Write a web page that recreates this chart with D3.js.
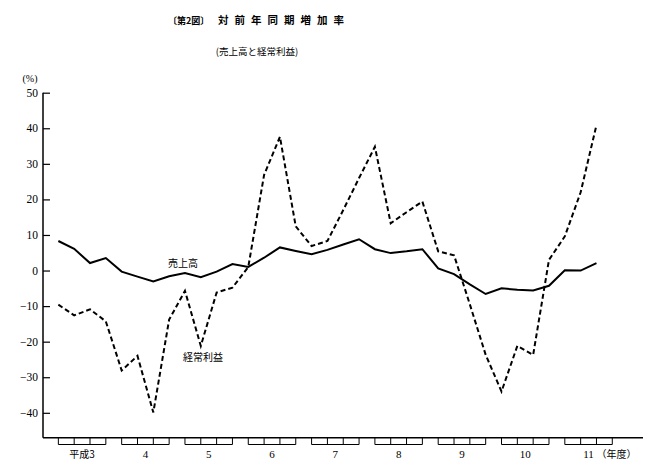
<!DOCTYPE html>
<html>
<head>
<meta charset="utf-8">
<script src="https://cdn.jsdelivr.net/npm/d3@7/dist/d3.min.js"></script>
<style>
  body { margin: 0; background: #fff; }
  svg { display: block; }
  .jp { font-family: "Noto Sans CJK JP", "Noto Sans", sans-serif; }
  .num { font-family: "Liberation Serif", "DejaVu Serif", serif; }
</style>
</head>
<body>
<div id="chart"></div>
<script>
// 四半期ごとの対前年同期増加率 (%)
var years = ["平成3", "4", "5", "6", "7", "8", "9", "10", "11"];
var sales = [8.3, 6.1, 2.1, 3.5, -0.3, -1.7, -3.1, -1.6, -0.7, -1.9, -0.3, 1.8,
             1.0, 3.6, 6.5, 5.5, 4.6, 5.8, 7.3, 8.8, 6.0, 4.9, 5.4, 6.0,
             0.6, -1.0, -3.9, -6.6, -5.0, -5.4, -5.6, -4.3, 0.1, 0.0, 2.1];
var profit = [-9.6, -12.6, -10.9, -14.3, -28.1, -24.0, -39.9, -13.8, -5.7, -21.2, -6.2, -4.8,
              1.0, 26.9, 37.6, 12.4, 6.9, 8.3, 17.0, 26.0, 34.8, 13.3, 16.4, 19.4,
              5.4, 4.3, -9.5, -23.7, -34.0, -21.2, -23.7, 3.0, 9.6, 22.0, 40.9];
var yTicks = [50, 40, 30, 20, 10, 0, -10, -20, -30, -40];

var svg = d3.select("#chart").append("svg")
    .attr("width", 660)
    .attr("height", 475);

var x = d3.scaleLinear().domain([-0.97, 36.94]).range([43, 643]);
var y = d3.scaleLinear().domain([-47, 50]).range([437.7, 92.7]);

// titles
svg.append("text")
    .attr("class", "jp")
    .attr("x", 168).attr("y", 24)
    .attr("font-size", 9)
    .attr("font-weight", "bold")
    .text("〔第2図〕");

svg.append("text")
    .attr("class", "jp")
    .attr("x", 218).attr("y", 24)
    .attr("font-size", 10.5)
    .attr("font-weight", "bold")
    .attr("letter-spacing", 6)
    .text("対前年同期増加率");

svg.append("text")
    .attr("class", "jp")
    .attr("x", 257).attr("y", 55)
    .attr("text-anchor", "middle")
    .attr("font-size", 9.5)
    .text("(売上高と経常利益)");

svg.append("text")
    .attr("class", "num")
    .attr("x", 30).attr("y", 82)
    .attr("text-anchor", "middle")
    .attr("font-size", 10)
    .text("(%)");

// y axis, ticks pointing inward
var yAxis = d3.axisRight(y)
    .tickValues(yTicks)
    .tickSize(7)
    .tickFormat(function(d){ return ""; });
var gy = svg.append("g")
    .attr("transform", "translate(" + x.range()[0] + ",0)")
    .call(yAxis);
gy.select(".domain").remove();
gy.selectAll("line").attr("stroke", "#000").attr("stroke-width", 1.2);

svg.append("line")
    .attr("x1", 43).attr("x2", 43)
    .attr("y1", y(50)).attr("y2", y(-47))
    .attr("stroke", "#000").attr("stroke-width", 1.5);

svg.selectAll(".ylab")
    .data(yTicks)
    .enter()
    .append("text")
    .attr("class", "num ylab")
    .attr("x", 38)
    .attr("y", function(d){ return y(d) + 4; })
    .attr("text-anchor", "end")
    .attr("font-size", 11.5)
    .text(function(d){ return d < 0 ? "−" + Math.abs(d) : d; });

// x axis line
svg.append("line")
    .attr("x1", 43).attr("x2", 643)
    .attr("y1", y(-47)).attr("y2", y(-47))
    .attr("stroke", "#000").attr("stroke-width", 1.5);

// year brackets
var brackets = svg.selectAll(".yr")
    .data(years)
    .enter()
    .append("g")
    .attr("class", "yr");

brackets.append("line")
    .attr("x1", function(d,i){ return x(i*4); })
    .attr("x2", function(d,i){ return x(i*4 + 3); })
    .attr("y1", 444.5).attr("y2", 444.5)
    .attr("stroke", "#000").attr("stroke-width", 1);

brackets.each(function(d,i){
    d3.select(this).selectAll("line.q")
        .data([0, 1, 2, 3])
        .enter()
        .append("line")
        .attr("class", "q")
        .attr("x1", function(q){ return x(i*4 + q); })
        .attr("x2", function(q){ return x(i*4 + q); })
        .attr("y1", y(-47)).attr("y2", 444.5)
        .attr("stroke", "#000").attr("stroke-width", 1);
});

brackets.append("text")
    .attr("class", function(d){ return d.length > 2 ? "jp" : "num"; })
    .attr("x", function(d,i){ return x(i*4 + 1.5); })
    .attr("y", 458)
    .attr("text-anchor", "middle")
    .attr("font-size", function(d){ return d.length > 2 ? 10 : 11; })
    .text(function(d){ return d; });

svg.append("text")
    .attr("class", "jp")
    .attr("x", x(8*4 + 1.5) + 8).attr("y", 458)
    .attr("font-size", 10)
    .text("（年度）");

// lines
var line = d3.line()
    .x(function(d,i){ return x(i); })
    .y(function(d){ return y(d); });

svg.append("path")
    .datum(profit)
    .attr("d", line)
    .attr("fill", "none")
    .attr("stroke", "#000")
    .attr("stroke-width", 2)
    .attr("stroke-dasharray", "5,3");

svg.append("path")
    .datum(sales)
    .attr("d", line)
    .attr("fill", "none")
    .attr("stroke", "#000")
    .attr("stroke-width", 2);

// series labels
svg.append("text")
    .attr("class", "jp")
    .attr("x", 183).attr("y", 267)
    .attr("text-anchor", "middle")
    .attr("font-size", 10)
    .text("売上高");

svg.append("text")
    .attr("class", "jp")
    .attr("x", 203).attr("y", 361)
    .attr("text-anchor", "middle")
    .attr("font-size", 10)
    .text("経常利益");
</script>
</body>
</html>
